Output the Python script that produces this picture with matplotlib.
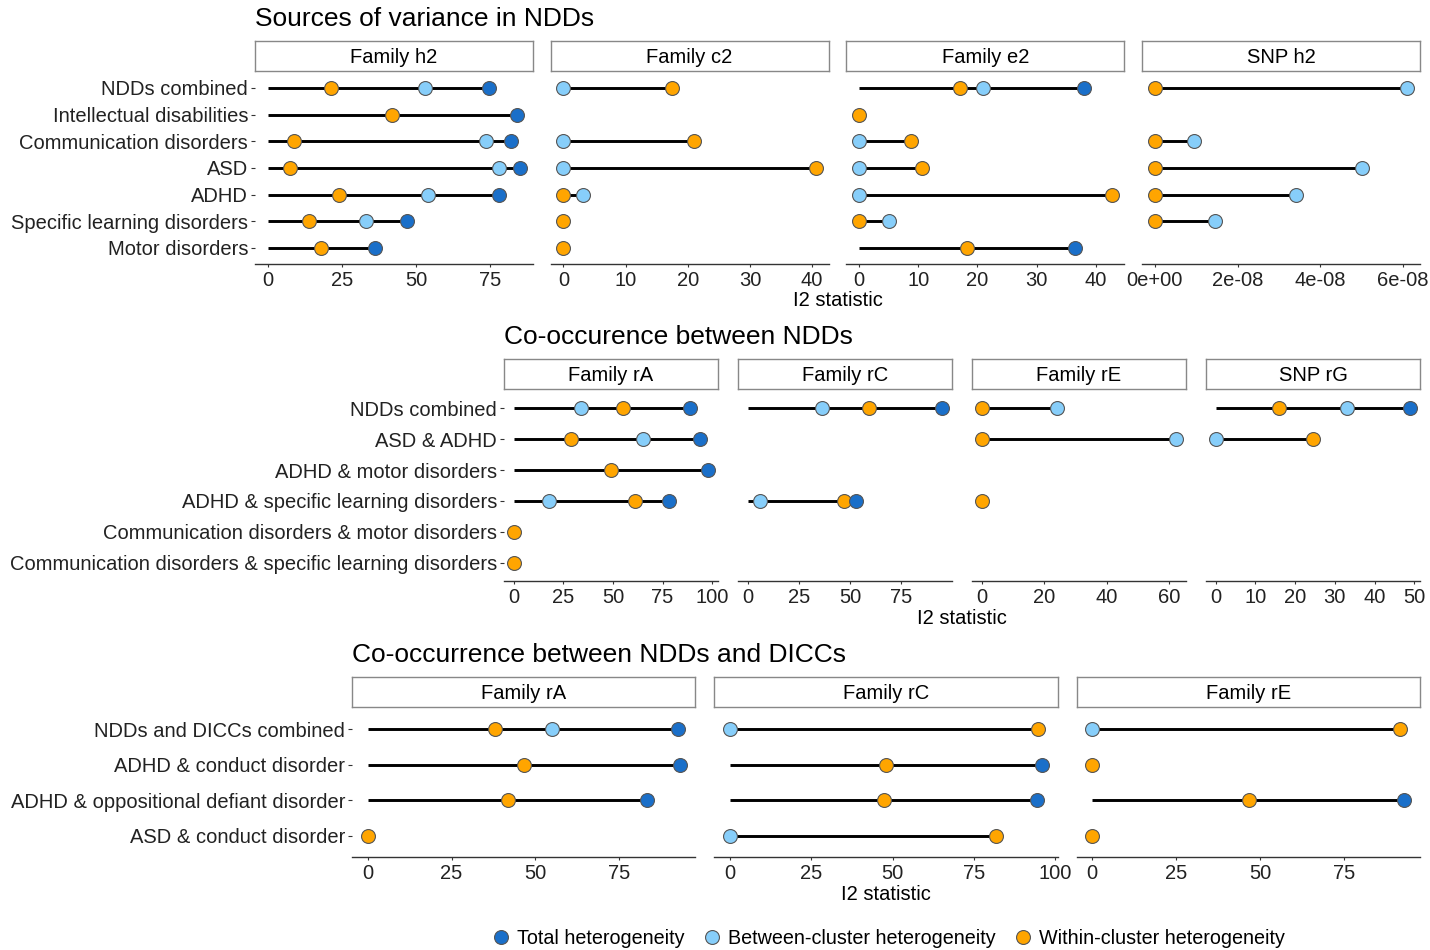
import numpy as np
import matplotlib
matplotlib.use("Agg")
import matplotlib.pyplot as plt
from matplotlib.lines import Line2D
from matplotlib.ticker import MultipleLocator, FuncFormatter

nan = np.nan

# ---- Sources of variance in NDDs ----
var_rows = ["NDDs combined", "Intellectual disabilities", "Communication disorders",
            "ASD", "ADHD", "Specific learning disorders", "Motor disorders"]
var_panels = ["Family h2", "Family c2", "Family e2", "SNP h2"]
var_steps = [25, 10, 10, 2e-8]
var_total = [
    [74.5, 84, 82, 85, 78, 47, 36],
    [nan, nan, nan, nan, nan, nan, nan],
    [38, nan, nan, nan, nan, nan, 36.5],
    [nan, nan, nan, nan, nan, nan, nan],
]
var_between = [
    [53, nan, 73.5, 78, 54, 33, nan],
    [0, nan, 0, 0, 3.1, nan, nan],
    [21, nan, 0, 0, 0, 5.1, nan],
    [6.1e-8, nan, 0.95e-8, 5.0e-8, 3.4e-8, 1.45e-8, nan],
]
var_within = [
    [21.4, 42, 8.8, 7.5, 24, 14, 18],
    [17.5, nan, 21, 40.6, 0, 0, 0],
    [17, 0, 8.7, 10.7, 42.7, 0, 18.2],
    [0, nan, 0, 0, 0, 0, nan],
]

# ---- Co-occurence between NDDs ----
co_rows = ["NDDs combined", "ASD & ADHD", "ADHD & motor disorders",
           "ADHD & specific learning disorders",
           "Communication disorders & motor disorders",
           "Communication disorders & specific learning disorders"]
co_panels = ["Family rA", "Family rC", "Family rE", "SNP rG"]
co_steps = [25, 25, 20, 10]
co_total = [
    [89, 94, 98, 78, nan, nan],
    [95, nan, nan, 53, nan, nan],
    [nan, nan, nan, nan, nan, nan],
    [49, nan, nan, nan, nan, nan],
]
co_between = [
    [34, 65, nan, 17.6, nan, nan],
    [36.5, nan, nan, 5.8, nan, nan],
    [24, 62.3, nan, nan, nan, nan],
    [33, 0, nan, nan, nan, nan],
]
co_within = [
    [55, 29, 49, 61, 0, 0],
    [59, nan, nan, 47, nan, nan],
    [0, 0, nan, 0, nan, nan],
    [16, 24.4, nan, nan, nan, nan],
]

# ---- Co-occurrence between NDDs and DICCs ----
dicc_rows = ["NDDs and DICCs combined", "ADHD & conduct disorder",
             "ADHD & oppositional defiant disorder", "ASD & conduct disorder"]
dicc_panels = ["Family rA", "Family rC", "Family rE"]
dicc_steps = [25, 25, 25]
dicc_total = [
    [92.6, 93, 83.3, nan],
    [nan, 96, 94.5, nan],
    [nan, nan, 93, nan],
]
dicc_between = [
    [55, nan, nan, nan],
    [0, nan, nan, 0],
    [0, nan, nan, nan],
]
dicc_within = [
    [38, 46.5, 41.7, 0],
    [94.8, 48, 47.4, 81.8],
    [91.7, 0, 46.7, 0],
]

C_TOTAL = "#1a6fc9"
C_BETWEEN = "#87cefa"
C_WITHIN = "#ffa500"
EDGE = "#555555"

W, H = 1430, 950
plt.rcParams["font.family"] = ["Liberation Sans", "DejaVu Sans"]


def frac(x0, y0, x1, y1):
    return [x0 / W, 1 - y1 / H, (x1 - x0) / W, (y1 - y0) / H]


def draw_section(fig, title, rows, panels, steps, total, between, within,
                 left, right, gap, title_y, strip_top, panel_top, panel_bot, lab_y):
    n = len(panels)
    pw = (right - left - gap * (n - 1)) / n
    fig.text(left / W, 1 - title_y / H, title, fontsize=19, ha="left", va="center")
    y = np.arange(len(rows))
    for k in range(n):
        x0 = left + k * (pw + gap)
        ax = fig.add_axes(frac(x0, panel_top, x0 + pw, panel_bot))
        sax = fig.add_axes(frac(x0, strip_top, x0 + pw, panel_top - 1))
        sax.set_xticks([]); sax.set_yticks([])
        for sp in sax.spines.values():
            sp.set_color("#888888"); sp.set_linewidth(1.0)
        sax.text(0.5, 0.45, panels[k], ha="center", va="center", fontsize=14.5,
                 transform=sax.transAxes)

        tot = np.array(total[k], float)
        btw = np.array(between[k], float)
        wit = np.array(within[k], float)
        vals = np.vstack([tot, btw, wit])
        for i in range(len(rows)):
            col = vals[:, i]
            if np.all(np.isnan(col)):
                continue
            hi = np.nanmax(col)
            ax.plot([0, hi], [i, i], color="black", lw=2.1, zorder=1,
                    solid_capstyle="butt")
        ax.scatter(wit, y, s=100, color=C_WITHIN, edgecolor=EDGE, linewidth=0.8, zorder=2)
        ax.scatter(btw, y, s=100, color=C_BETWEEN, edgecolor=EDGE, linewidth=0.8, zorder=3)
        ax.scatter(tot, y, s=100, color=C_TOTAL, edgecolor=EDGE, linewidth=0.8, zorder=4)

        xmax = np.nanmax(vals)
        xmin = min(0, np.nanmin(vals))
        pad = 0.05 * (xmax - xmin)
        ax.set_xlim(xmin - pad, xmax + pad)
        ax.set_ylim(len(rows) - 1 + 0.6, -0.6)
        ax.xaxis.set_major_locator(MultipleLocator(steps[k]))
        if steps[k] < 1e-3:
            ax.xaxis.set_major_formatter(FuncFormatter(lambda v, p: f"{v:.0e}"))
        for side in ["top", "right", "left"]:
            ax.spines[side].set_visible(False)
        ax.spines["bottom"].set_color("#333333")
        ax.spines["bottom"].set_linewidth(1.0)
        ax.tick_params(axis="x", length=2, color="#333333", labelsize=14.5,
                       labelcolor="#222222", pad=3)
        if k == 0:
            ax.set_yticks(y)
            ax.set_yticklabels(rows)
            ax.tick_params(axis="y", length=3, color="#333333", labelsize=14.5,
                           labelcolor="#222222", pad=2)
        else:
            ax.set_yticks([])
        ax.set_facecolor("none")
    fig.text((left + right) / 2 / W, 1 - lab_y / H, "I2 statistic", fontsize=14.5,
             ha="center", va="center")


fig = plt.figure(figsize=(W / 100, H / 100), dpi=100)

draw_section(fig, "Sources of variance in NDDs", var_rows, var_panels, var_steps,
             var_total, var_between, var_within,
             left=255, right=1420, gap=18, title_y=19, strip_top=41,
             panel_top=72, panel_bot=264, lab_y=301)
draw_section(fig, "Co-occurence between NDDs", co_rows, co_panels, co_steps,
             co_total, co_between, co_within,
             left=504, right=1420, gap=20, title_y=337, strip_top=359,
             panel_top=390, panel_bot=581, lab_y=619)
draw_section(fig, "Co-occurrence between NDDs and DICCs", dicc_rows, dicc_panels,
             dicc_steps, dicc_total, dicc_between, dicc_within,
             left=352, right=1420, gap=19, title_y=655, strip_top=677,
             panel_top=708, panel_bot=857, lab_y=894)

handles = [
    Line2D([], [], ls="none", marker="o", markersize=10, markerfacecolor=c,
           markeredgecolor=EDGE, markeredgewidth=0.8)
    for c in [C_TOTAL, C_BETWEEN, C_WITHIN]
]
fig.legend(handles, ["Total heterogeneity", "Between-cluster heterogeneity",
                     "Within-cluster heterogeneity"],
           loc="center", bbox_to_anchor=(888 / W, 1 - 938 / H), ncol=3,
           frameon=False, fontsize=14.2, handletextpad=0.3, columnspacing=0.9,
           handlelength=1.0)

fig.savefig("out.png", dpi=100)
